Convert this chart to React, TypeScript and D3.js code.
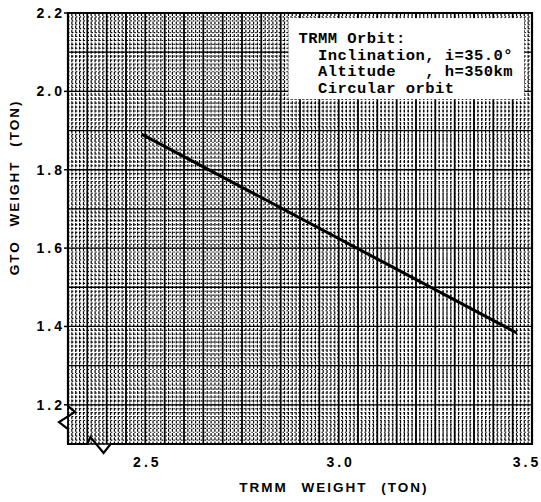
import { useRef, useEffect } from 'react';
import * as d3 from 'd3';

// data
const TRMM_WEIGHT = [2.49, 3.46];
const GTO_WEIGHT = [1.891, 1.384];
const X_TICKS = [2.5, 3.0, 3.5];
const Y_TICKS = [1.2, 1.4, 1.6, 1.8, 2.0, 2.2];
const ORBIT_NOTE = ['TRMM Orbit:', '  Inclination, i=35.0°', '  Altitude   , h=350km', '  Circular orbit'];

export default function App() {
  const svgRef = useRef<SVGSVGElement>(null);

  useEffect(() => {
    const svg = d3.select(svgRef.current);
    svg.selectAll('*').remove();

    const W = 541, H = 502;
    const margin = { top: 13, right: 9, bottom: 58, left: 68 };

    const x = d3.scaleLinear().domain([2.3, 3.5]).range([margin.left, W - margin.right]);
    const y = d3.scaleLinear().domain([1.1, 2.2]).range([H - margin.bottom, margin.top]);

    const [x0, x1] = x.range();
    const [y1, y0] = y.range();

    const g = svg.append('g');

    // graph paper
    g.append('rect').attr('x', x0).attr('y', y0).attr('width', x1 - x0).attr('height', y1 - y0)
      .attr('fill', '#fff');

    const minorX = d3.range(2.3, 3.5001, 0.01);
    const minorY = d3.range(1.1, 2.2001, 0.01);

    g.append('g').selectAll('line').data(minorY).enter().append('line')
      .attr('x1', x0).attr('x2', x1)
      .attr('y1', d => y(d)).attr('y2', d => y(d))
      .attr('stroke', '#000').attr('stroke-width', 1.1)
      .attr('stroke-dasharray', '1.5,2.4');

    g.append('g').selectAll('line').data(minorX).enter().append('line')
      .attr('x1', d => x(d)).attr('x2', d => x(d))
      .attr('y1', y0).attr('y2', y1)
      .attr('stroke', '#000').attr('stroke-width', 1.2)
      .attr('stroke-dasharray', '3,1.2');

    const majorX = d3.range(2.3, 3.5001, 0.05);
    const majorY = d3.range(1.1, 2.2001, 0.1);

    g.append('g').selectAll('line').data(majorX).enter().append('line')
      .attr('x1', d => x(d)).attr('x2', d => x(d))
      .attr('y1', y0).attr('y2', y1)
      .attr('stroke', '#000').attr('stroke-width', 1.7);

    g.append('g').selectAll('line').data(majorY).enter().append('line')
      .attr('x1', x0).attr('x2', x1)
      .attr('y1', d => y(d)).attr('y2', d => y(d))
      .attr('stroke', '#000').attr('stroke-width', 1.3);

    // orbit note box
    const bx = x(2.87), by = y(2.187);
    g.append('rect').attr('x', bx).attr('y', by)
      .attr('width', x(3.48) - bx).attr('height', y(1.98) - by)
      .attr('fill', '#fff');
    g.append('g').selectAll('text').data(ORBIT_NOTE).enter().append('text')
      .attr('x', bx + 10).attr('y', (d, i) => by + 25 + i * 16.5)
      .attr('font-family', '"Liberation Mono", "DejaVu Sans Mono", monospace')
      .attr('font-weight', 'bold').attr('font-size', 15.5)
      .attr('letter-spacing', 0.45)
      .style('white-space', 'pre')
      .text(d => d);

    // border with axis breaks (left and bottom)
    const border: [number, number][] = [
      [x0, y0], [x0, y(1.197)],
      [x0 + 7, y(1.182)], [x0 - 9, y(1.156)], [x0, y(1.138)],
      [x0, y1], [x(2.35), y1],
      [x(2.358), y1 - 7], [x(2.392), y1 + 9], [x(2.41), y1],
      [x1, y1], [x1, y0],
    ];
    g.append('path').attr('d', d3.line()(border) + 'Z')
      .attr('fill', 'none').attr('stroke', '#000').attr('stroke-width', 2.2)
      .attr('stroke-linejoin', 'miter');

    // data line
    const line = d3.line<number>().x((d, i) => x(TRMM_WEIGHT[i])).y(d => y(d));
    g.append('path').attr('d', line(GTO_WEIGHT))
      .attr('fill', 'none').attr('stroke', '#000').attr('stroke-width', 3);

    // ticks
    const tickFont = '"Liberation Sans", Arial, sans-serif';
    g.append('g').selectAll('text').data(Y_TICKS).enter().append('text')
      .attr('x', x0 - 3).attr('y', d => y(d) + 5)
      .attr('text-anchor', 'end')
      .attr('font-family', tickFont).attr('font-weight', 'bold').attr('font-size', 14)
      .attr('letter-spacing', 3)
      .text(d => d.toFixed(1));
    g.append('g').selectAll('line').data(Y_TICKS).enter().append('line')
      .attr('x1', x0 - 4).attr('x2', x0).attr('y1', d => y(d)).attr('y2', d => y(d))
      .attr('stroke', '#000').attr('stroke-width', 1.5);

    g.append('g').selectAll('text').data(X_TICKS).enter().append('text')
      .attr('x', d => Math.min(x(d) + 2, W - 14)).attr('y', y1 + 23)
      .attr('text-anchor', 'middle')
      .attr('font-family', tickFont).attr('font-weight', 'bold').attr('font-size', 14)
      .attr('letter-spacing', 3)
      .text(d => d.toFixed(1));

    // axis titles
    g.append('text')
      .attr('x', x(2.98) + 3).attr('y', H - 10)
      .attr('text-anchor', 'middle')
      .attr('font-family', tickFont).attr('font-weight', 'bold').attr('font-size', 13.5)
      .attr('letter-spacing', 2).attr('word-spacing', 8)
      .text('TRMM WEIGHT (TON)');

    g.append('text')
      .attr('transform', `translate(19,${y(1.755)}) rotate(-90)`)
      .attr('text-anchor', 'middle')
      .attr('font-family', tickFont).attr('font-weight', 'bold').attr('font-size', 13.5)
      .attr('letter-spacing', 2).attr('word-spacing', 8)
      .text('GTO WEIGHT (TON)');
  }, []);

  return (
    <svg ref={svgRef} width={541} height={502}
      style={{ position: 'absolute', left: 0, top: 0, background: '#fff' }} />
  );
}
